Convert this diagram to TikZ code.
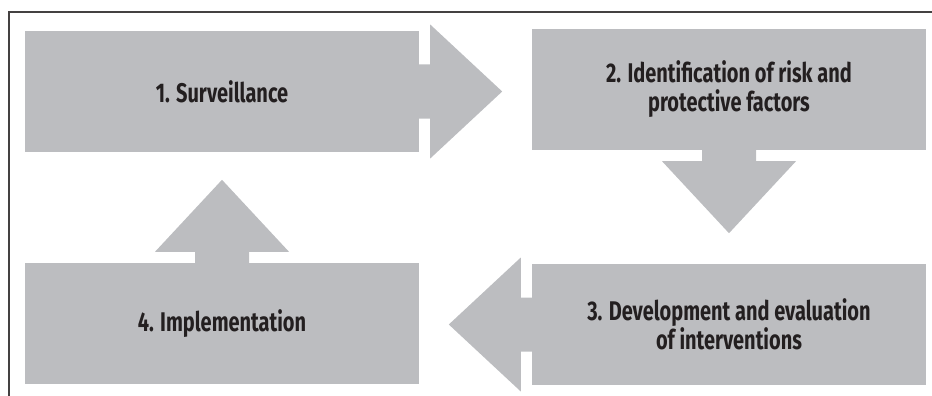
\documentclass[tikz,border=0pt]{standalone}
\usepackage{fontspec}
\setmainfont{Fira Sans}[FakeStretch=0.74]
\usepackage{tikz}
\usetikzlibrary{calc}

\definecolor{boxgray}{RGB}{188,189,192}
\definecolor{inkdark}{RGB}{35,31,32}

\tikzset{
	stagebox/.style={fill=boxgray, minimum width=394pt, minimum height=121pt,
		inner sep=0pt, align=center, text=inkdark,
		font=\bfseries\fontsize{27}{29}\selectfont},
	flow/.style={fill=boxgray},
	frameline/.style={draw=inkdark!85, line width=1.2pt}
}

\begin{document}
\begin{tikzpicture}[x=1pt,y=1pt]
				\useasboundingbox (0,0) rectangle (932,-396);
				
				% Frame
				\coordinate (fr0) at (932,-12);
				\coordinate (fr1) at (9,-12);
				\coordinate (fr2) at (9,-396);
				\draw[frameline] (fr0) -- (fr1) -- (fr2);
				
				% Stages
				\node[stagebox] (b1) at (222,-91.5) {1. Surveillance};
				\node[stagebox] (b2) at (729,-89.5) {2. Identification of risk and\\protective factors};
				\node[stagebox] (b3) at (729,-324.5) {3. Development and evaluation\\of interventions};
				\node[stagebox] (b4) at (222,-323.5) {4. Implementation};
				
				% Block arrows
				\foreach \from/\ang in {b1.east/0, b2.south/-90, b3.west/180, b4.north/90}
				\fill[flow, shift={(\from)}, rotate=\ang]
					(0,-27) -- (11,-27) -- (11,-67) -- (83,0) -- (11,67) -- (11,27) -- (0,27) -- cycle;
			\end{tikzpicture}
\end{document}
